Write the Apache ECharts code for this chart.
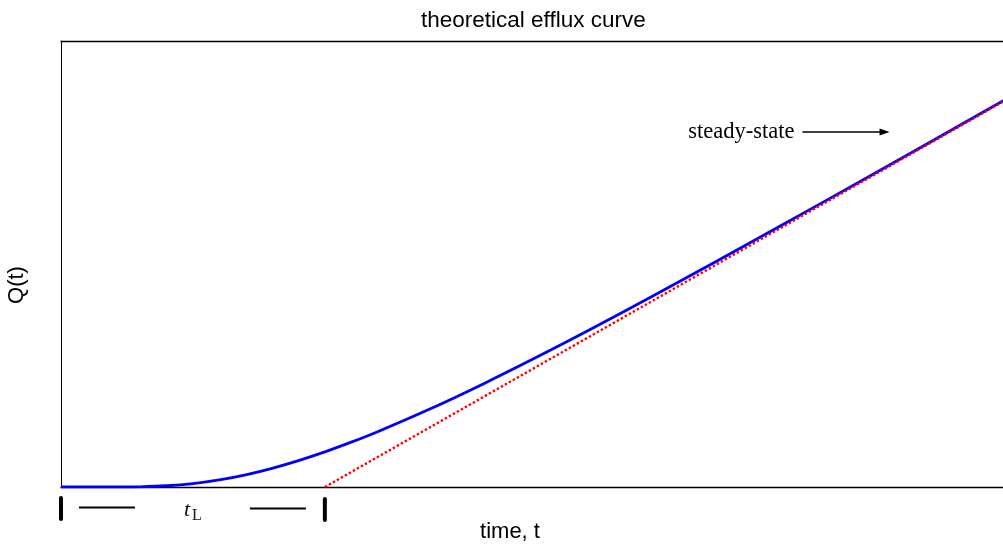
<!DOCTYPE html>
<html>
<head>
<meta charset="utf-8">
<title>theoretical efflux curve</title>
<script src="https://cdn.jsdelivr.net/npm/echarts@6/dist/echarts.min.js"></script>
<style>
  html, body { margin: 0; padding: 0; background: #fff; }
  #chart { width: 1003px; height: 544px; }
</style>
</head>
<body>
<div id="chart"></div>
<script>
// time axis in units of the lag time, cumulative efflux Q(t) in arbitrary units
const tLag = 1;

// transient efflux curve: time values and Q(t)
const effluxTime = [0, 0.2, 0.3, 0.4, 0.5, 0.6, 0.7, 0.8, 0.9, 1.0, 1.1, 1.2, 1.4, 1.6, 1.8, 2.0, 2.25, 2.5, 2.75, 3.0, 3.3, 3.6];
const effluxQ    = [0, 0, 0.05, 0.28, 0.77, 1.59, 2.74, 4.19, 5.92, 7.88, 10.05, 12.40, 17.54, 23.12, 29.02, 35.16, 43.05, 51.12, 59.30, 67.56, 77.54, 87.56];

// steady-state asymptote, meeting the time axis at the lag time
const steadyTime = [1, 3.6];
const steadyQ    = [0, 87.4];

// annotation anchors (data coordinates)
const steadyLabelAt = [2.78, 79.6];
const steadyArrowFrom = [2.81, 79.6];
const steadyArrowTo = [3.14, 79.6];

const pairs = (xs, ys) => xs.map((x, i) => [x, ys[i]]);

const chart = echarts.init(document.getElementById('chart'), null, { renderer: 'canvas' });

const plainAxis = {
  axisTick: { show: false }, axisLabel: { show: false }, splitLine: { show: false }
};

chart.setOption({
  animation: false,
  backgroundColor: '#ffffff',
  title: {
    text: 'theoretical efflux curve',
    left: 421,
    top: 9,
    padding: 0,
    textStyle: { fontFamily: 'Liberation Sans', fontSize: 22.5, fontWeight: 'normal', color: '#000' }
  },
  grid: { left: 61, top: 41, right: 0, bottom: 57 },
  xAxis: [
    Object.assign({
      type: 'value', min: 0, max: 3.57, position: 'bottom',
      axisLine: { show: true, onZero: false, lineStyle: { color: '#000', width: 1.3 } }
    }, plainAxis),
    // frame line along the top of the plot
    Object.assign({
      type: 'value', min: 0, max: 3.57, position: 'top',
      axisLine: { show: true, onZero: false, lineStyle: { color: '#000', width: 1.3 } }
    }, plainAxis)
  ],
  yAxis: Object.assign({
    type: 'value', min: 0, max: 100,
    axisLine: { show: true, lineStyle: { color: '#000', width: 1 } }
  }, plainAxis),
  series: [
    {
      name: 'Q(t)', type: 'line', data: pairs(effluxTime, effluxQ),
      smooth: 0.3, showSymbol: false, symbol: 'none', clip: true,
      lineStyle: { color: '#0000ff', width: 2.8 }, z: 3
    },
    {
      name: 'steady-state', type: 'line', data: pairs(steadyTime, steadyQ),
      showSymbol: false, symbol: 'none', clip: true,
      lineStyle: { color: '#ff0000', width: 2.4, type: [2.4, 2.2] }, z: 4
    }
  ]
});

function px(p) { return chart.convertToPixel({ gridIndex: 0 }, p); }

function drawAnnotations() {
  const origin = px([0, 0]);
  const lag = px([tLag, 0]);
  const barTop = origin[1] + 11, barBottom = origin[1] + 32;
  const bracketY = origin[1] + 20.5;
  const mid = (origin[0] + lag[0]) / 2;
  const label = px(steadyLabelAt);
  const a0 = px(steadyArrowFrom), a1 = px(steadyArrowTo);
  const black = '#000';

  chart.setOption({
    graphic: [
      // time-lag bracket below the axis
      { type: 'line', shape: { x1: origin[0], y1: barTop, x2: origin[0], y2: barBottom },
        style: { stroke: black, lineWidth: 4, lineCap: 'round' } },
      { type: 'line', shape: { x1: lag[0], y1: barTop + 1, x2: lag[0], y2: barBottom + 1 },
        style: { stroke: black, lineWidth: 4, lineCap: 'round' } },
      { type: 'line', shape: { x1: origin[0] + 18, y1: bracketY, x2: origin[0] + 74, y2: bracketY },
        style: { stroke: black, lineWidth: 2 } },
      { type: 'line', shape: { x1: lag[0] - 75, y1: bracketY + 1, x2: lag[0] - 19, y2: bracketY + 1 },
        style: { stroke: black, lineWidth: 2 } },
      { type: 'text', x: mid - 9, y: origin[1] + 12,
        style: { text: 't', fontFamily: 'Liberation Serif', fontStyle: 'italic', fontSize: 22, fill: '#111' } },
      { type: 'text', x: mid - 1, y: origin[1] + 21,
        style: { text: 'L', fontFamily: 'Liberation Serif', fontSize: 16, fill: '#111' } },

      // steady-state note with arrow
      { type: 'text', x: label[0], y: label[1],
        style: { text: 'steady-state', fontFamily: 'Liberation Serif', fontSize: 22.5, fill: '#000',
                 align: 'right', verticalAlign: 'middle' } },
      { type: 'line', shape: { x1: a0[0], y1: a0[1], x2: a1[0] - 8, y2: a1[1] },
        style: { stroke: black, lineWidth: 1.5 } },
      { type: 'polygon', shape: { points: [[a1[0], a1[1]], [a1[0] - 10, a1[1] - 3.5], [a1[0] - 10, a1[1] + 3.5]] },
        style: { fill: black } },

      // axis titles
      { type: 'text', x: 510, y: 532,
        style: { text: 'time, t', fontFamily: 'Liberation Sans', fontSize: 22, fill: '#000',
                 align: 'center', verticalAlign: 'middle' } },
      { type: 'text', x: 17, y: 285, rotation: Math.PI / 2,
        style: { text: 'Q(t)', fontFamily: 'Liberation Sans', fontSize: 22, fill: '#000',
                 align: 'center', verticalAlign: 'middle' } }
    ]
  });
}

drawAnnotations();
</script>
</body>
</html>
